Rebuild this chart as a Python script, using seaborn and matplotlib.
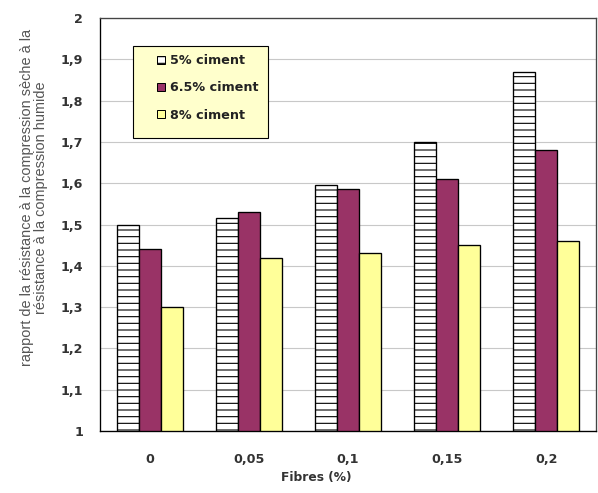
import matplotlib
matplotlib.use("Agg")
import matplotlib.pyplot as plt
import seaborn as sns
import pandas as pd
from matplotlib.patches import Patch, Rectangle

fibres = ["0", "0,05", "0,1", "0,15", "0,2"]
ciment_5 = [1.50, 1.515, 1.595, 1.70, 1.87]
ciment_65 = [1.44, 1.53, 1.587, 1.61, 1.68]
ciment_8 = [1.30, 1.42, 1.43, 1.45, 1.46]
series = ["5% ciment", "6.5% ciment", "8% ciment"]
colors = ["#FFFFFF", "#993366", "#FFFF99"]
y_ticks = [1, 1.1, 1.2, 1.3, 1.4, 1.5, 1.6, 1.7, 1.8, 1.9, 2]
y_tick_labels = ["1", "1,1", "1,2", "1,3", "1,4", "1,5", "1,6", "1,7", "1,8", "1,9", "2"]

df = pd.DataFrame({
    "Fibres": fibres * 3,
    "Serie": [s for s in series for _ in fibres],
    "Rapport": ciment_5 + ciment_65 + ciment_8,
})

sns.set_style("white")
plt.rcParams["hatch.linewidth"] = 1.0
plt.rcParams["font.family"] = ["DejaVu Sans"]

fig = plt.figure(figsize=(598 / 80, 493 / 80), dpi=80)
ax = fig.add_axes([100 / 598, 1 - 431 / 493, 496 / 598, 413 / 493])

sns.barplot(data=df, x="Fibres", y="Rapport", hue="Serie", order=fibres,
            hue_order=series, palette=colors, width=0.665, gap=0,
            edgecolor="black", linewidth=1.2, saturation=1, ax=ax, legend=False)

n = len(fibres)
for i, p in enumerate(ax.patches[:3 * n]):
    if i < n:
        p.set_hatch("--")

ax.set_ylim(1, 2)
ax.set_xlim(-0.5, n - 0.5)
ax.set_yticks(y_ticks)
ax.set_yticklabels(y_tick_labels)
ax.yaxis.grid(True, color="#C8C8C8", linewidth=1.0)
ax.set_axisbelow(True)

ax.set_xticks(range(n))
ax.set_xticklabels(fibres)
ax.set_xticks([k - 0.5 for k in range(n + 1)], minor=True)
ax.tick_params(axis="x", which="major", length=0, pad=20)
ax.tick_params(axis="x", which="minor", length=5, width=1, color="black", direction="out")
ax.tick_params(axis="y", length=5, width=1, color="black", direction="out", pad=10)

for lab in ax.get_xticklabels() + ax.get_yticklabels():
    lab.set_fontweight("bold")
    lab.set_fontsize(11.5)
    lab.set_color("#333333")

for s in ["top", "right"]:
    ax.spines[s].set_color("#444444")
    ax.spines[s].set_linewidth(1.2)
for s in ["left", "bottom"]:
    ax.spines[s].set_color("black")
    ax.spines[s].set_linewidth(1.2)

ax.set_xlabel("Fibres (%)", fontsize=11, fontweight="bold", color="#333333", labelpad=4)
ax.xaxis.set_label_coords(0.435, -0.097)
ax.set_ylabel("rapport de la résistance à la compression sèche à la\nrésistance à la compression humide",
              fontsize=13, color="#555555", linespacing=1.0, family="Liberation Sans")
ax.yaxis.set_label_coords(-0.105, 0.565)

# legend box
ax.add_patch(Rectangle((33 / 496, (431 - 137) / 414), 135 / 496, 92 / 414,
                       transform=ax.transAxes, facecolor="#FFFFCC", edgecolor="black",
                       linewidth=1.0, zorder=4))
handles = [Patch(facecolor=c, edgecolor="black", linewidth=0.9, hatch=h)
           for c, h in zip(colors, ["--", None, None])]
leg = ax.legend(handles, series, loc="upper left", bbox_to_anchor=(57 / 496, (431 - 53.5) / 414),
                borderaxespad=0, frameon=False, fontsize=11.5,
                handlelength=0.65, handleheight=0.65, handletextpad=0.35,
                labelspacing=1.1, borderpad=0)
leg.set_zorder(5)
for t in leg.get_texts():
    t.set_fontweight("bold")
    t.set_color("#222222")

fig.savefig("out.png", dpi=80)
